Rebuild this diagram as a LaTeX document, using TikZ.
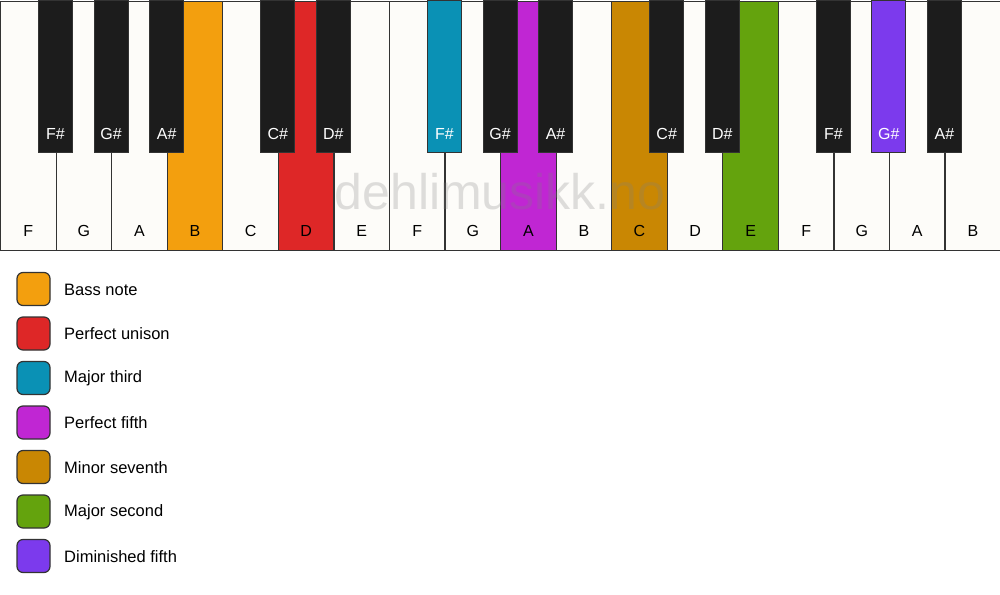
\documentclass[tikz,border=0pt]{standalone}
\usepackage{fontspec}
\setmainfont{Liberation Sans}
\definecolor{wkey}{HTML}{FDFCF9}
\definecolor{bkey}{HTML}{1C1C1C}
\definecolor{edge}{HTML}{333333}
\definecolor{cbass}{HTML}{F39F0E}
\definecolor{cunison}{HTML}{DE2727}
\definecolor{cthird}{HTML}{0A91B5}
\definecolor{cfifth}{HTML}{C026D3}
\definecolor{cseventh}{HTML}{C98703}
\definecolor{csecond}{HTML}{64A30D}
\definecolor{cdim}{HTML}{7C3AED}
\tikzset{
  whitekey/.style={draw=edge, line width=1.2pt, minimum width=55.556pt, minimum height=249pt, inner sep=0pt, anchor=north west},
  blackkey/.style={draw=edge, line width=1pt, minimum width=34pt, minimum height=152pt, inner sep=0pt, anchor=north},
  wlabel/.style={font=\fontsize{16}{16}\selectfont, text=black},
  blabel/.style={font=\fontsize{16}{16}\selectfont, text=white},
  legbox/.style={draw=edge, line width=1.2pt, rounded corners=6pt, minimum size=33pt, inner sep=0pt},
  legtext/.style={font=\fontsize{16.5}{16.5}\selectfont, anchor=west, inner sep=0pt},
  watermark/.style={font=\fontsize{50}{50}\selectfont, text=gray, opacity=0.25}
}
\begin{document}
\begin{tikzpicture}[x=1pt,y=-1pt]
\useasboundingbox[fill=white] (0,0) rectangle (1000,594);
% white keys
\foreach \i/\n/\c in {0/F/wkey,1/G/wkey,2/A/wkey,3/B/cbass,4/C/wkey,5/D/cunison,6/E/wkey,7/F/wkey,8/G/wkey,9/A/cfifth,10/B/wkey,11/C/cseventh,12/D/wkey,13/E/csecond,14/F/wkey,15/G/wkey,16/A/wkey,17/B/wkey}{
  \node[whitekey, fill=\c] (w\i) at ({\i*55.556},0.6) {};
  \node[wlabel] (wl\i) at ([yshift=20pt]w\i.south) {\n};
}
% watermark
\node[watermark] (wm) at (500,192) {dehlimusikk.no};
% black keys
\foreach \i/\n/\c in {0/F\#/bkey,1/G\#/bkey,2/A\#/bkey,4/C\#/bkey,5/D\#/bkey,7/F\#/cthird,8/G\#/bkey,9/A\#/bkey,11/C\#/bkey,12/D\#/bkey,14/F\#/bkey,15/G\#/cdim,16/A\#/bkey}{
  \node[blackkey, fill=\c] (b\i) at ({(\i+1)*55.556},0) {};
  \node[blabel] (bl\i) at ([yshift=19pt]b\i.south) {\n};
}
% legend
\foreach \k/\c/\t in {0/cbass/Bass note,1/cunison/Perfect unison,2/cthird/Major third,3/cfifth/Perfect fifth,4/cseventh/Minor seventh,5/csecond/Major second,6/cdim/Diminished fifth}{
  \node[legbox, fill=\c] (lb\k) at (33.5,{289+\k*44.5}) {};
  \node[legtext] (lt\k) at (64,{289.5+\k*44.5}) {\t};
}
\end{tikzpicture}
\end{document}
